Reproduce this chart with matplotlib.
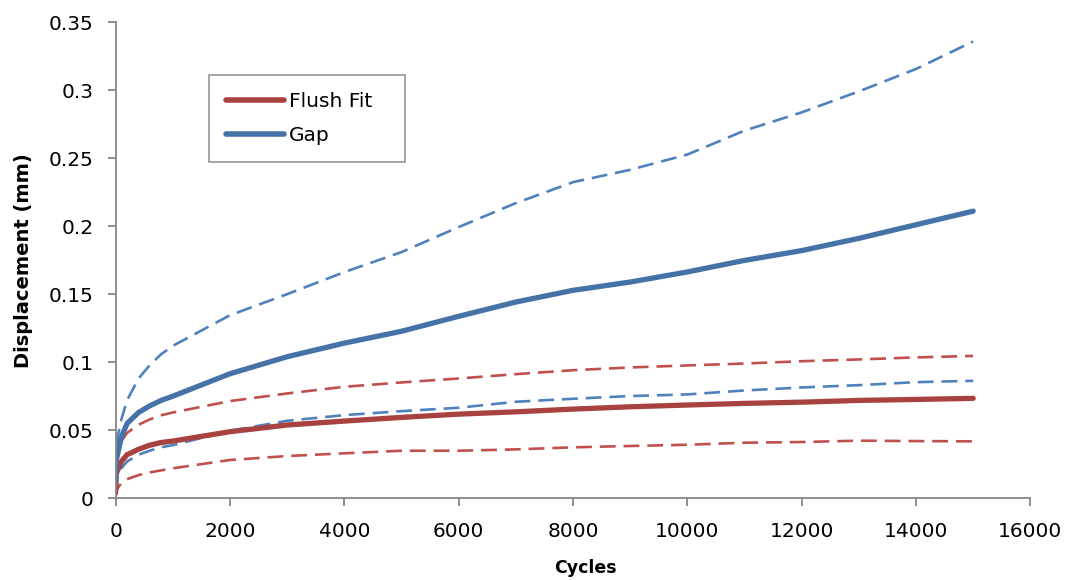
import matplotlib
matplotlib.use("Agg")
import matplotlib.pyplot as plt

plt.rcParams['font.family'] = ['DejaVu Sans']

# Cycle counts at which displacement was recorded
cycles = [0, 10, 100, 200, 400, 600, 800, 1000, 2000, 3000, 4000, 5000, 6000,
          7000, 8000, 9000, 10000, 11000, 12000, 13000, 14000, 15000]

# Flush fit: mean and +/- one standard deviation bounds (mm)
flush_mean = [0.004, 0.018, 0.027, 0.032, 0.036, 0.039, 0.041, 0.042, 0.0489, 0.0538,
              0.0567, 0.0594, 0.0618, 0.0635, 0.0655, 0.0672, 0.0685, 0.0697, 0.0706,
              0.0719, 0.0726, 0.0734]
flush_upper = [0.008, 0.025, 0.042, 0.048, 0.054, 0.058, 0.061, 0.063, 0.0714, 0.077,
               0.0819, 0.0851, 0.088, 0.0912, 0.0941, 0.0961, 0.0976, 0.099, 0.1007,
               0.102, 0.1035, 0.1046]
flush_lower = [0.0, 0.006, 0.011, 0.014, 0.017, 0.019, 0.0205, 0.022, 0.0281, 0.031,
               0.033, 0.0349, 0.0349, 0.0359, 0.0374, 0.0384, 0.0393, 0.0408, 0.0413,
               0.0423, 0.042, 0.0418]

# Gap: mean and +/- one standard deviation bounds (mm)
gap_mean = [0.012, 0.028, 0.045, 0.055, 0.063, 0.068, 0.072, 0.075, 0.0915, 0.104,
            0.114, 0.1227, 0.1337, 0.1442, 0.1528, 0.1589, 0.1663, 0.1748, 0.182,
            0.191, 0.201, 0.211]
gap_upper = [0.022, 0.04, 0.058, 0.072, 0.088, 0.098, 0.106, 0.112, 0.1345, 0.150,
             0.1662, 0.1809, 0.1993, 0.2169, 0.2323, 0.2414, 0.2526, 0.2702, 0.2836,
             0.299, 0.3155, 0.3357]
gap_lower = [0.005, 0.015, 0.022, 0.027, 0.032, 0.035, 0.0375, 0.039, 0.0496, 0.0569,
             0.0611, 0.064, 0.0665, 0.0709, 0.0731, 0.0751, 0.0763, 0.0792, 0.0814,
             0.0831, 0.0853, 0.0863]

RED_SOLID = '#A8423F'
RED_DASH = '#C0504D'
BLUE_SOLID = '#4572A7'
BLUE_DASH = '#4F81BD'

fig = plt.figure(figsize=(10.71, 5.80), dpi=100)
ax = fig.add_axes([0.108, 0.141, 0.854, 0.821])

dash_kw = dict(lw=1.9, dashes=(6, 3), dash_capstyle='butt')
ax.plot(cycles, gap_upper, color=BLUE_DASH, **dash_kw)
ax.plot(cycles, flush_upper, color=RED_DASH, **dash_kw)
ax.plot(cycles, gap_lower, color=BLUE_DASH, **dash_kw)
ax.plot(cycles, flush_lower, color=RED_DASH, **dash_kw)

ax.plot(cycles, flush_mean, color=RED_SOLID, lw=3.8, solid_capstyle='round',
        solid_joinstyle='round', label='Flush Fit')
ax.plot(cycles, gap_mean, color=BLUE_SOLID, lw=3.8, solid_capstyle='round',
        solid_joinstyle='round', label='Gap')

ax.set_xlim(0, 16000)
ax.set_ylim(0, 0.35)
ax.set_xticks(range(0, 16001, 2000))
ax.set_yticks([0, 0.05, 0.1, 0.15, 0.2, 0.25, 0.3, 0.35])
ax.set_yticklabels(['0', '0.05', '0.1', '0.15', '0.2', '0.25', '0.3', '0.35'])

for side in ('top', 'right'):
    ax.spines[side].set_visible(False)
for side in ('left', 'bottom'):
    ax.spines[side].set_color('#868686')
    ax.spines[side].set_linewidth(1.3)
ax.tick_params(axis='both', direction='out', length=6, width=1.3, color='#868686',
               labelsize=14.5, labelcolor='black')
ax.tick_params(axis='y', pad=10)
ax.tick_params(axis='x', pad=11)

ax.set_xlabel('Cycles', fontsize=12.5, fontweight='bold', labelpad=13)
ax.xaxis.label.set_x(0.514)
ax.set_ylabel('Displacement (mm)', fontsize=14, fontweight='bold', labelpad=11)

# Legend box spans a fixed width; entries stay left-aligned inside it
leg = ax.legend(loc='upper left', bbox_to_anchor=(0.102, 0.5, 0.2143, 0.389),
                mode='expand', fontsize=14.5, frameon=True, fancybox=False,
                shadow=False, handlelength=2.9, handletextpad=0.2, borderpad=0.85,
                labelspacing=0.75, borderaxespad=0.0)
leg.get_frame().set_edgecolor('#868686')
leg.get_frame().set_linewidth(1.3)
for h in leg.get_lines():
    h.set_linewidth(4.0)
    h.set_solid_capstyle('round')

fig.savefig('out.png', dpi=100)
